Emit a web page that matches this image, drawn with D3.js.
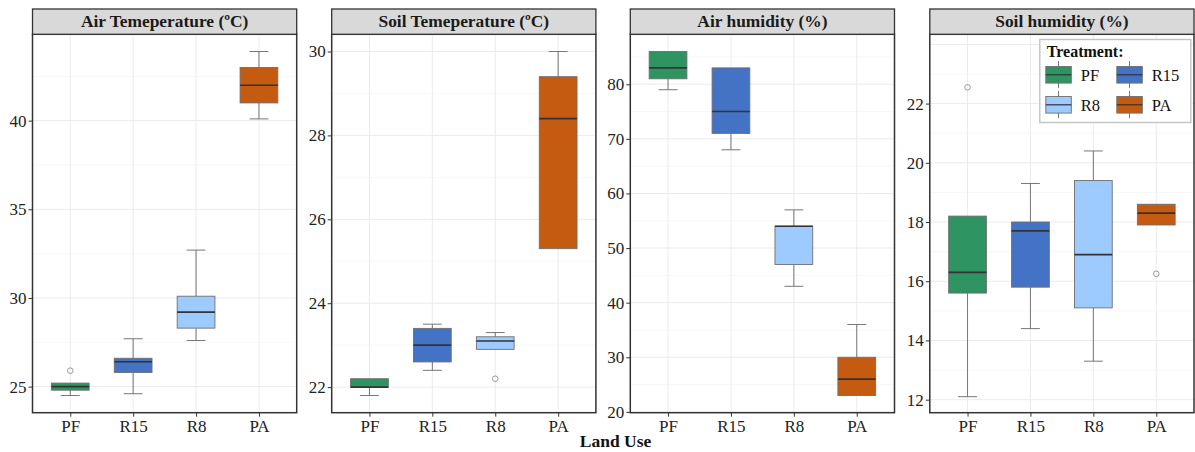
<!DOCTYPE html>
<html>
<head>
<meta charset="utf-8">
<script src="https://cdn.jsdelivr.net/npm/d3@7"></script>
<style>
  body { margin: 0; background: #fff; }
  text { font-family: 'Liberation Serif', 'Times New Roman', serif; }
</style>
</head>
<body>
<svg id="chart" width="1195" height="452"></svg>
<script>
const landUse = ['PF', 'R15', 'R8', 'PA'];
const treatColors = ['#2e9461', '#4472c4', '#9dcbff', '#c55a11'];
const panelTitles = ['Air Temeperature (ºC)', 'Soil Temeperature (ºC)', 'Air humidity (%)', 'Soil humidity (%)'];

// [lower whisker, q1, median, q3, upper whisker] per land use
const airTemp = [[24.5, 24.8, 25.0, 25.2, 25.2], [24.6, 25.8, 26.4, 26.6, 27.7], [27.6, 28.3, 29.2, 30.1, 32.7], [40.1, 41.0, 42.0, 43.0, 43.9]];
const airTempOut = [[25.9], [], [], []];
const soilTemp = [[21.8, 22.0, 22.0, 22.2, 22.2], [22.4, 22.6, 23.0, 23.4, 23.5], [22.9, 22.9, 23.1, 23.2, 23.3], [25.3, 25.3, 28.4, 29.4, 30.0]];
const soilTempOut = [[], [], [22.2], []];
const airHum = [[79, 81, 83, 86, 86], [68, 71, 75, 83, 83], [43, 47, 54, 54, 57], [23, 23, 26, 30, 36]];
const airHumOut = [[], [], [], []];
const soilHum = [[12.1, 15.6, 16.3, 18.2, 18.2], [14.4, 15.8, 17.7, 18.0, 19.3], [13.3, 15.1, 16.9, 19.4, 20.4], [17.9, 17.9, 18.3, 18.6, 18.6]];
const soilHumOut = [[22.55], [], [], [16.25]];

const airTempTicks = [25, 30, 35, 40];
const soilTempTicks = [22, 24, 26, 28, 30];
const airHumTicks = [20, 30, 40, 50, 60, 70, 80];
const soilHumTicks = [12, 14, 16, 18, 20, 22];
const soilHumGrid = [12, 14, 16, 18, 20, 22, 24];
const soilHumLimits = [11.56, 24.34];

const panels = [
  { title: panelTitles[0], stats: airTemp, out: airTempOut, ticks: airTempTicks, grid: airTempTicks, left: 32.5 },
  { title: panelTitles[1], stats: soilTemp, out: soilTempOut, ticks: soilTempTicks, grid: soilTempTicks, left: 331.7 },
  { title: panelTitles[2], stats: airHum, out: airHumOut, ticks: airHumTicks, grid: airHumTicks, left: 630.3 },
  { title: panelTitles[3], stats: soilHum, out: soilHumOut, ticks: soilHumTicks, grid: soilHumGrid, left: 929.8, limits: soilHumLimits }
];

const svg = d3.select('#chart');
const panelW = 264.2;
const stripTop = 9;
const panelTop = 34.3;
const panelBottom = 412.7;

panels.forEach((p) => {
  const g = svg.append('g').attr('transform', `translate(${p.left},0)`);

  let domain = p.limits;
  if (!domain) {
    const all = p.stats.flat().concat(p.out.flat());
    const lo = d3.min(all);
    const hi = d3.max(all);
    const pad = (hi - lo) * 0.05;
    domain = [lo - pad, hi + pad];
  }
  const y = d3.scaleLinear().domain(domain).range([panelBottom, panelTop]);
  const x = d3.scalePoint().domain(landUse).range([0, panelW]).padding(0.6);
  const step = x.step();

  // minor grid
  const minor = [];
  const gs = p.grid[1] - p.grid[0];
  for (let v = p.grid[0] - gs / 2; v <= domain[1]; v += gs) {
    if (v >= domain[0]) minor.push(v);
  }
  g.append('g')
    .selectAll('line')
    .data(minor)
    .enter()
    .append('line')
    .attr('x1', 0).attr('x2', panelW)
    .attr('y1', (d) => y(d)).attr('y2', (d) => y(d))
    .attr('stroke', '#f4f4f4')
    .attr('stroke-width', 0.6);

  // major grid
  g.append('g')
    .selectAll('line')
    .data(p.grid.filter((d) => d >= domain[0] && d <= domain[1]))
    .enter()
    .append('line')
    .attr('x1', 0).attr('x2', panelW)
    .attr('y1', (d) => y(d)).attr('y2', (d) => y(d))
    .attr('stroke', '#ebebeb')
    .attr('stroke-width', 1);
  g.append('g')
    .selectAll('line')
    .data(landUse)
    .enter()
    .append('line')
    .attr('x1', (d) => x(d)).attr('x2', (d) => x(d))
    .attr('y1', panelTop).attr('y2', panelBottom)
    .attr('stroke', '#ebebeb')
    .attr('stroke-width', 1);

  const boxW = step * 0.6;
  const capW = step * 0.3;
  const boxes = g.append('g')
    .selectAll('g')
    .data(p.stats)
    .enter()
    .append('g')
    .attr('transform', (d, i) => `translate(${x(landUse[i])},0)`);

  // whiskers
  boxes.append('line')
    .attr('x1', 0).attr('x2', 0)
    .attr('y1', (d) => y(d[3])).attr('y2', (d) => y(d[4]))
    .attr('stroke', '#777').attr('stroke-width', 1);
  boxes.append('line')
    .attr('x1', 0).attr('x2', 0)
    .attr('y1', (d) => y(d[0])).attr('y2', (d) => y(d[1]))
    .attr('stroke', '#777').attr('stroke-width', 1);
  boxes.filter((d) => d[4] > d[3]).append('line')
    .attr('x1', -capW / 2).attr('x2', capW / 2)
    .attr('y1', (d) => y(d[4])).attr('y2', (d) => y(d[4]))
    .attr('stroke', '#777').attr('stroke-width', 1);
  boxes.filter((d) => d[0] < d[1]).append('line')
    .attr('x1', -capW / 2).attr('x2', capW / 2)
    .attr('y1', (d) => y(d[0])).attr('y2', (d) => y(d[0]))
    .attr('stroke', '#777').attr('stroke-width', 1);

  boxes.append('rect')
    .attr('x', -boxW / 2)
    .attr('width', boxW)
    .attr('y', (d) => y(d[3]))
    .attr('height', (d) => y(d[1]) - y(d[3]))
    .attr('fill', (d, i) => treatColors[i])
    .attr('stroke', '#6f6f6f')
    .attr('stroke-width', 0.9);
  boxes.append('line')
    .attr('x1', -boxW / 2).attr('x2', boxW / 2)
    .attr('y1', (d) => y(d[2])).attr('y2', (d) => y(d[2]))
    .attr('stroke', '#333')
    .attr('stroke-width', 1.6);

  // outliers
  boxes.selectAll('circle')
    .data((d, i) => p.out[i])
    .enter()
    .append('circle')
    .attr('cx', 0)
    .attr('cy', (d) => y(d))
    .attr('r', 2.8)
    .attr('fill', 'none')
    .attr('stroke', '#9a9a9a')
    .attr('stroke-width', 1);

  // panel border
  g.append('rect')
    .attr('x', 0).attr('y', panelTop)
    .attr('width', panelW).attr('height', panelBottom - panelTop)
    .attr('fill', 'none')
    .attr('stroke', '#333')
    .attr('stroke-width', 1.5);

  // strip
  g.append('rect')
    .attr('x', 0).attr('y', stripTop)
    .attr('width', panelW).attr('height', panelTop - stripTop)
    .attr('fill', '#d9d9d9')
    .attr('stroke', '#333')
    .attr('stroke-width', 1.3);
  g.append('text')
    .attr('x', panelW / 2)
    .attr('y', 27)
    .attr('text-anchor', 'middle')
    .attr('font-size', 17.4)
    .attr('font-weight', 'bold')
    .attr('fill', '#1a1a1a')
    .text(p.title);

  // axes
  const yAxis = g.append('g')
    .call(d3.axisLeft(y).tickValues(p.ticks).tickSize(4).tickPadding(2));
  const xAxis = g.append('g')
    .attr('transform', `translate(0,${panelBottom})`)
    .call(d3.axisBottom(x).tickSize(4).tickPadding(3.5));
  [yAxis, xAxis].forEach((ax) => {
    ax.select('.domain').remove();
    ax.selectAll('.tick line').attr('stroke', '#333');
    ax.selectAll('.tick text')
      .attr('font-family', "'Liberation Serif', 'Times New Roman', serif")
      .attr('font-size', 17)
      .attr('fill', '#222');
  });

  // legend in last panel
  if (p.limits) {
    const lg = g.append('g').attr('transform', 'translate(110,39.5)');
    lg.append('rect')
      .attr('width', 151).attr('height', 83)
      .attr('fill', '#fff')
      .attr('stroke', '#c4c4c4')
      .attr('stroke-width', 1.4);
    lg.append('text')
      .attr('x', 7).attr('y', 17.5)
      .attr('font-size', 16)
      .attr('font-weight', 'bold')
      .attr('fill', '#111')
      .text('Treatment:');
    const keys = lg.selectAll('g.key')
      .data(landUse)
      .enter()
      .append('g')
      .attr('class', 'key')
      .attr('transform', (d, i) => `translate(${6 + (i % 2) * 71},${27 + Math.floor(i / 2) * 30})`);
    keys.append('line')
      .attr('x1', 12.7).attr('x2', 12.7)
      .attr('y1', -5.5).attr('y2', 21.5)
      .attr('stroke', '#777');
    keys.append('rect')
      .attr('width', 25.5).attr('height', 16.6)
      .attr('fill', (d, i) => treatColors[i])
      .attr('stroke', '#6f6f6f')
      .attr('stroke-width', 0.9);
    keys.append('line')
      .attr('x1', 0).attr('x2', 25.5)
      .attr('y1', 8.3).attr('y2', 8.3)
      .attr('stroke', '#333')
      .attr('stroke-width', 1.2);
    keys.append('text')
      .attr('x', 35).attr('y', 14)
      .attr('font-size', 16.5)
      .attr('fill', '#111')
      .text((d) => d);
  }
});

svg.append('text')
  .attr('x', 615.5)
  .attr('y', 447)
  .attr('text-anchor', 'middle')
  .attr('font-size', 17.5)
  .attr('font-weight', 'bold')
  .attr('fill', '#111')
  .text('Land Use');
</script>
</body>
</html>
